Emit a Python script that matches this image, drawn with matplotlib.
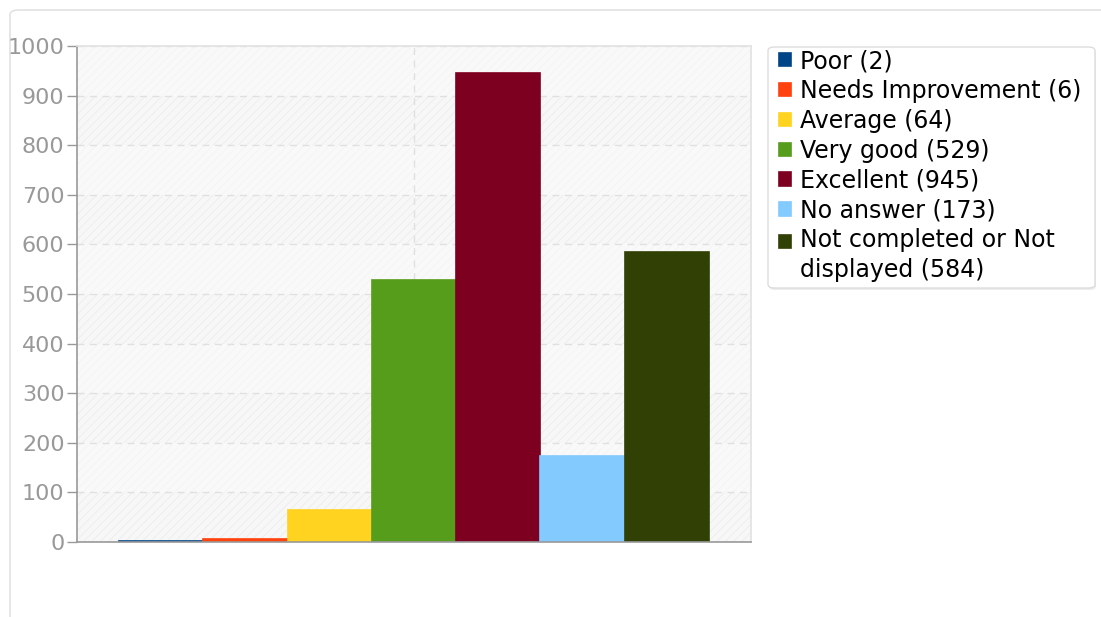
import matplotlib.pyplot as plt
from matplotlib.patches import FancyBboxPatch, Rectangle
import numpy as np

# Answer categories and counts
labels = ["Poor", "Needs Improvement", "Average", "Very good", "Excellent",
          "No answer", "Not completed or Not\ndisplayed"]
counts = [2, 6, 64, 529, 945, 173, 584]
colors = ["#004586", "#ff420e", "#ffd320", "#579d1c", "#7e0021", "#83caff", "#314004"]
y_ticks = [0, 100, 200, 300, 400, 500, 600, 700, 800, 900, 1000]

W, H = 1101, 617
plt.rcParams['hatch.linewidth'] = 0.6
fig = plt.figure(figsize=(W / 100, H / 100), dpi=100)

# outer panel with rounded corner
panel = FancyBboxPatch((10 / W, -0.1), 1.2, 1 - 10 / H + 0.1,
                       boxstyle="round,pad=0,rounding_size=0.008",
                       transform=fig.transFigure, facecolor="white",
                       edgecolor="#e2e2e2", linewidth=1.2, zorder=-5)
fig.patches.append(panel)

ax = fig.add_axes([77 / W, 75 / H, 674 / W, 496 / H])
ax.set_facecolor("#f7f7f7")

# hatched background with alternating bands
ax.add_patch(Rectangle((-0.5, 0), 1, 1000, facecolor="none", edgecolor="#ececec",
                       hatch="////", linewidth=0, zorder=0))
for lo in range(0, 1000, 200):
    ax.axhspan(lo + 100, lo + 200, facecolor="#fbfbfb", alpha=0.5, zorder=0.1, linewidth=0)

ax.set_axisbelow(True)
ax.yaxis.grid(True, linestyle=(0, (5, 4)), color="#e0e0e0", linewidth=1)
ax.axvline(0, linestyle=(0, (5, 4)), color="#e0e0e0", linewidth=1, zorder=0.5)

n = len(counts)
width = 0.125
xpos = (np.arange(n) - (n - 1) / 2) * width
for x, v, c, lab in zip(xpos, counts, colors, labels):
    ax.bar(x, v, width=width, color=c, edgecolor=c, linewidth=1.2,
           label=f"{lab} ({v})", zorder=2)

ax.set_xlim(-0.5, 0.5)
ax.set_ylim(0, 1000)
ax.set_yticks(y_ticks)
ax.set_xticks([])
ax.tick_params(axis="y", colors="#999999", labelsize=16, length=7, width=1, pad=2)
for s in ["left", "bottom"]:
    ax.spines[s].set_color("#999999")
    ax.spines[s].set_linewidth(1.2)
for s in ["top", "right"]:
    ax.spines[s].set_color("#e2e2e2")
    ax.spines[s].set_linewidth(1.2)

# legend frame drawn separately so the text can sit tight to the top
lx0, ly0, lx1, ly1 = 768, 47, 1095, 288
shadow = FancyBboxPatch(((lx0 + 1) / W, 1 - (ly1 + 2) / H), (lx1 - lx0) / W, (ly1 - ly0) / H,
                        boxstyle="round,pad=0,rounding_size=0.006", transform=fig.transFigure,
                        facecolor="#ececec", edgecolor="none", zorder=3)
frame = FancyBboxPatch((lx0 / W, 1 - ly1 / H), (lx1 - lx0) / W, (ly1 - ly0) / H,
                       boxstyle="round,pad=0,rounding_size=0.006", transform=fig.transFigure,
                       facecolor="white", edgecolor="#dddddd", linewidth=1, zorder=3.1)
fig.patches.extend([shadow, frame])

fs = 17
leg = fig.legend(loc="upper left", bbox_to_anchor=(779 / W, 1 - 49 / H),
                 fontsize=fs, frameon=False,
                 handlelength=0.5, handleheight=0.5, handletextpad=0.4,
                 labelspacing=0.25, borderpad=0, borderaxespad=0)
leg.set_zorder(4)
leg.get_texts()[-1].set_linespacing(1.3)
# put the last marker next to the first line of its two-line label
last = leg.legend_handles[-1]
last.set_y(last.get_y() + 0.62 * fs)

fig.savefig("out.png", dpi=100)
